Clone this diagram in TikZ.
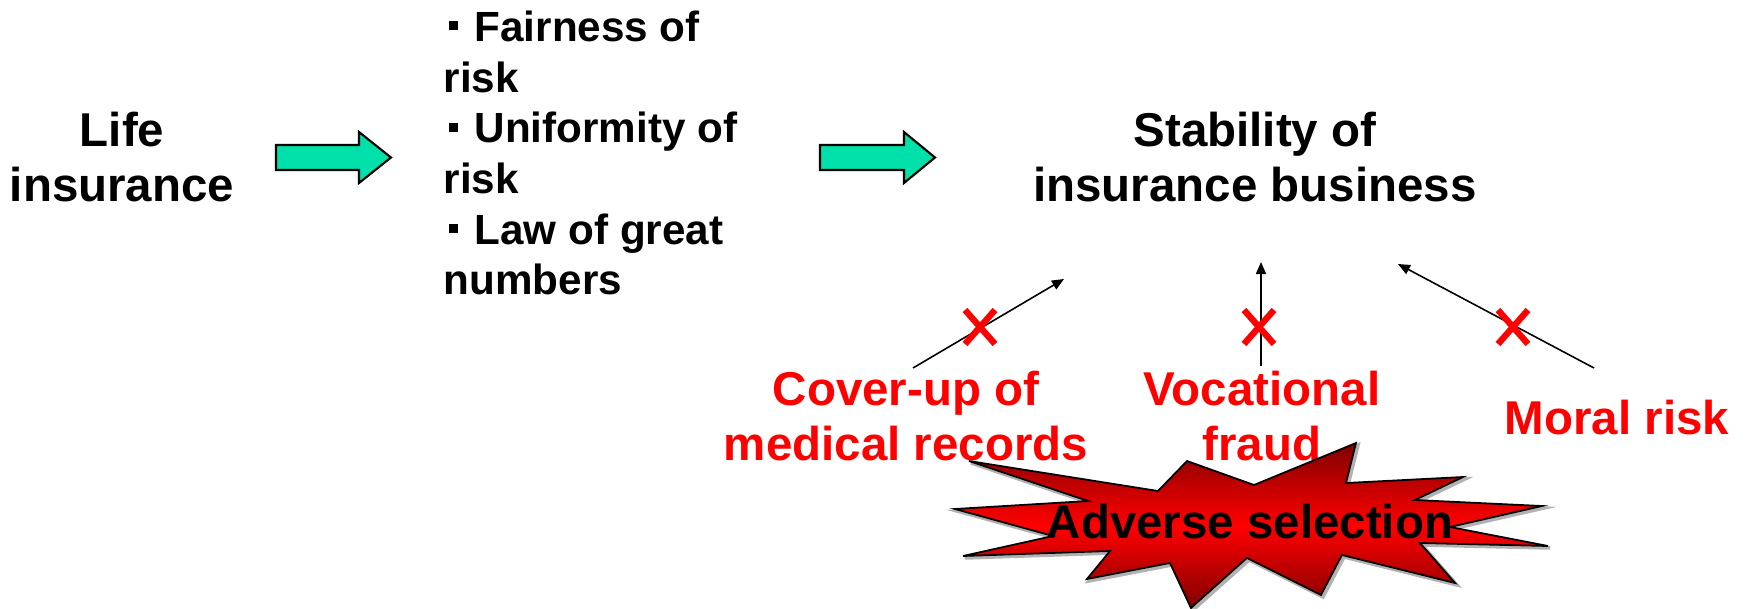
\documentclass[tikz,border=0pt]{standalone}
\usepackage{fontspec}
\setmainfont{Liberation Sans}
\usetikzlibrary{arrows.meta}
\definecolor{arrowgreen}{RGB}{0,224,170}
\newcommand{\bul}{\hspace*{0.05cm}\raisebox{0.11cm}{\rule{0.09cm}{0.09cm}}\hspace{0.17cm}}

\begin{document}
\begin{tikzpicture}[x=0.01cm, y=-0.01cm,
  every node/.style={font=\fontsize{13.5}{15.6}\selectfont\bfseries, inner sep=0pt},
  blacktext/.style={align=center},
  redtext/.style={align=center, text=red, font=\fontsize{13.5}{15.9}\selectfont\bfseries},
  fatarrow/.style={draw=black, line width=0.6pt, fill=arrowgreen},
  thinarrow/.style={-{Triangle[length=0.12cm,width=0.1cm]}, line width=0.45pt},
  nocross/.style={red, line width=1.8pt}]
\useasboundingbox (0,0) rectangle (1750,609);

% left and right blocks
\node[blacktext] (life) at (122,157) {Life\\insurance};
\node[align=left, anchor=west, font=\fontsize{12}{14.4}\selectfont\bfseries] (props) at (443,153)
  {\bul Fairness of\\risk\\\bul Uniformity of\\risk\\\bul Law of great\\numbers};
\node[blacktext] (stab) at (1255,157) {Stability of\\insurance business};

% green block arrows
\draw[fatarrow] (276,145) -- (359,145) -- (359,132) -- (391,157.5) -- (359,183) -- (359,170) -- (276,170) -- cycle;
\draw[fatarrow] (820,145) -- (904,145) -- (904,132) -- (935,157.5) -- (904,183) -- (904,170) -- (820,170) -- cycle;

% the things that break stability
\node[redtext] (cover) at (906,416) {Cover-up of\\medical records};
\node[redtext] (voc) at (1262,416) {Vocational\\fraud};
\node[redtext] (moral) at (1617,418) {Moral risk};

\coordinate (a1s) at (913,368);
\coordinate (a1e) at (1064,279);
\coordinate (a2s) at (1261,366);
\coordinate (a2e) at (1261,262);
\coordinate (a3s) at (1594,368);
\coordinate (a3e) at (1398,264);
\draw[thinarrow] (a1s) -- (a1e);
\draw[thinarrow] (a2s) -- (a2e);
\draw[thinarrow] (a3s) -- (a3e);

\foreach \cx in {980,1259,1513}
  \draw[nocross] (\cx-15,310) -- (\cx+15,344) (\cx-15,344) -- (\cx+15,310);

% explosion
\def\burst{(969,461) -- (1158,491) -- (1187,461) -- (1254,485) -- (1356,443) -- (1346,483)
  -- (1463,477) -- (1415,500) -- (1542,506) -- (1450,527) -- (1548,546) -- (1420,543)
  -- (1455,583) -- (1342,555) -- (1321,595) -- (1247,558) -- (1191,608) -- (1170,563)
  -- (1087,579) -- (1110,551) -- (963,556) -- (1053,536) -- (955,509) -- (1088,501) -- cycle}
\draw[gray!60, line width=1pt, shift={(2,2)}] \burst;
\shade[top color=red!50!black, bottom color=red!50!black, middle color=red, draw=black, line width=0.5pt] \burst;
\node (adverse) at (1250,522) {Adverse selection};
\end{tikzpicture}
\end{document}
